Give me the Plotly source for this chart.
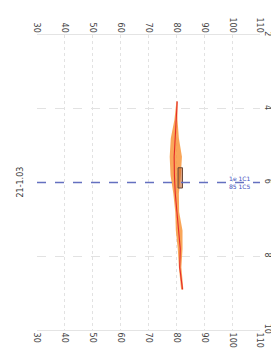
import plotly.graph_objects as go

# data
x_ticks = [30, 40, 50, 60, 70, 80, 90, 100, 110]
y_ticks = [2, 4, 6, 8, 10]
line_y = [3.8, 4.3, 4.8, 5.3, 5.8, 6.3, 6.8, 7.3, 7.8, 8.3, 8.9]
line_x = [80.3, 79.9, 79.5, 79.2, 79.3, 79.6, 80.2, 80.8, 81.4, 81.2, 82.2]
band_lo = [80.0, 79.3, 78.0, 77.6, 77.9, 78.9, 79.6, 79.8, 80.5, 80.9, 81.7]
band_hi = [80.4, 80.4, 80.9, 82.0, 81.6, 80.9, 81.0, 82.2, 82.2, 81.8, 82.5]
box_x = [80.6, 82.2, 82.2, 80.6, 80.6]
box_y = [5.6, 5.6, 6.15, 6.15, 5.6]
ref_y = 6
ref_label = "1e 1C1<br>85 1C5"
title_text = "21-1.03"

fig = go.Figure()
fig.add_trace(go.Scatter(x=band_hi + band_lo[::-1], y=line_y + line_y[::-1],
                         fill="toself", fillcolor="rgba(248,150,60,0.85)",
                         line=dict(width=0), mode="lines", showlegend=False))
fig.add_trace(go.Scatter(x=line_x, y=line_y, mode="lines",
                         line=dict(color="#e62a2a", width=1.1), showlegend=False))
fig.add_trace(go.Scatter(x=box_x, y=box_y, mode="lines", fill="toself",
                         fillcolor="rgba(200,100,40,0.6)",
                         line=dict(color="#6a4a3a", width=1), showlegend=False))
fig.add_trace(go.Scatter(x=[x_ticks[0], x_ticks[-1]], y=[ref_y, ref_y], mode="lines",
                         line=dict(color="#6470c0", width=1.3, dash="dash"),
                         showlegend=False))
fig.add_trace(go.Scatter(x=[x_ticks[0]], y=[ref_y], xaxis="x2", mode="markers",
                         marker=dict(opacity=0), showlegend=False))

fig.add_annotation(x=103, y=ref_y, text=ref_label, showarrow=False,
                   font=dict(size=6, color="#4050c0", family="DejaVu Sans"))
fig.add_annotation(xref="paper", yref="paper", x=-0.076, y=0.5, text=title_text,
                   textangle=-90, showarrow=False, xanchor="center",
                   font=dict(size=8, color="#333", family="DejaVu Sans"))

axis_common = dict(tickvals=x_ticks, ticktext=[str(v) for v in x_ticks],
                   tickangle=90, tickfont=dict(size=8, color="#444", family="DejaVu Sans"),
                   showgrid=True, gridcolor="#e2e2e2", griddash="dot", zeroline=False,
                   automargin=False, ticklabeloverflow="allow")
fig.update_layout(
    width=271, height=361,
    margin=dict(l=37, r=11, t=35, b=31, autoexpand=False),
    plot_bgcolor="white", paper_bgcolor="white",
    xaxis=dict(side="bottom", range=[30, 110], **axis_common, showline=True,
               linecolor="#e4e4e4", mirror=True),
    xaxis2=dict(side="top", overlaying="x", matches="x", **axis_common),
    yaxis=dict(range=[10, 2], tickvals=y_ticks, side="right", tickangle=90,
               tickfont=dict(size=8, color="#444", family="DejaVu Sans"),
               showgrid=True, gridcolor="#e2e2e2", griddash="dash", zeroline=False,
               automargin=False, ticklabeloverflow="allow", ticklabelstandoff=2),
    showlegend=False,
)
fig.write_html("out.html", config={"displayModeBar": False},
               post_script="document.body.style.margin='0';document.body.style.overflow='hidden';")
